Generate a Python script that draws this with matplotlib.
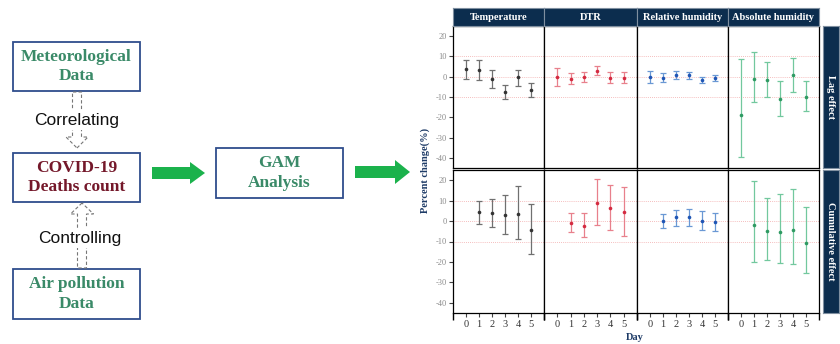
import numpy as np
import matplotlib
matplotlib.use('Agg')
import matplotlib.pyplot as plt
from matplotlib.patches import Rectangle, FancyArrow

# ---- data ----
days = [0, 1, 2, 3, 4, 5]
variables = ['Temperature', 'DTR', 'Relative humidity', 'Absolute humidity']
effects = ['Lag effect', 'Cumulative effect']

# lag effect (top row): estimate, lower, upper
lag_temp = [3.7, 3.2, -1.0, -7.4, -0.3, -6.5]
lag_temp_lo = [-1.1, -1.6, -5.5, -11.0, -4.4, -10.0]
lag_temp_hi = [8.4, 8.1, 3.5, -3.9, 3.5, -2.9]

lag_dtr = [0.0, -1.0, -0.3, 2.9, -0.6, -0.6]
lag_dtr_lo = [-4.4, -3.4, -2.7, 0.6, -3.2, -3.1]
lag_dtr_hi = [4.4, 1.9, 2.4, 5.2, 2.3, 2.3]

lag_rh = [-0.2, -0.5, 1.0, 0.6, -1.6, -0.6]
lag_rh_lo = [-2.9, -2.7, -1.1, -1.1, -3.2, -1.9]
lag_rh_hi = [2.6, 1.9, 2.9, 2.3, 0.0, 1.0]

lag_ah = [-19.0, -1.0, -1.5, -11.1, 0.6, -10.0]
lag_ah_lo = [-39.5, -12.3, -9.8, -19.4, -7.3, -17.1]
lag_ah_hi = [8.9, 12.1, 7.3, -2.1, 9.2, -2.1]

# cumulative effect (bottom row), no value on day 0
cum_temp = [np.nan, 4.4, 4.1, 2.9, 3.4, -4.4]
cum_temp_lo = [np.nan, -1.3, -2.8, -6.2, -8.8, -16.0]
cum_temp_hi = [np.nan, 9.8, 10.9, 12.9, 17.0, 8.5]

cum_dtr = [np.nan, -0.7, -2.3, 8.8, 6.4, 4.2]
cum_dtr_lo = [np.nan, -5.4, -8.0, -2.0, -4.2, -7.2]
cum_dtr_hi = [np.nan, 4.1, 3.8, 20.7, 17.9, 16.5]

cum_rh = [np.nan, 0.2, 1.8, 2.0, 0.2, -0.5]
cum_rh_lo = [np.nan, -3.6, -2.4, -2.4, -4.6, -5.0]
cum_rh_hi = [np.nan, 3.4, 5.4, 6.0, 4.7, 3.8]

cum_ah = [np.nan, -2.0, -4.9, -5.2, -4.2, -10.8]
cum_ah_lo = [np.nan, -19.9, -18.9, -20.7, -20.9, -25.6]
cum_ah_hi = [np.nan, 19.7, 11.4, 13.2, 15.7, 7.0]

yticks = [20, 10, 0, -10, -20, -30, -40]

rows = [
    [(lag_temp, lag_temp_lo, lag_temp_hi), (lag_dtr, lag_dtr_lo, lag_dtr_hi),
     (lag_rh, lag_rh_lo, lag_rh_hi), (lag_ah, lag_ah_lo, lag_ah_hi)],
    [(cum_temp, cum_temp_lo, cum_temp_hi), (cum_dtr, cum_dtr_lo, cum_dtr_hi),
     (cum_rh, cum_rh_lo, cum_rh_hi), (cum_ah, cum_ah_lo, cum_ah_hi)],
]

bar_colors = ['#707070', '#e8808c', '#6a98d4', '#72c89e']
pt_colors = ['#333333', '#d42a40', '#1f55b5', '#2e9a62']
navy = '#0c2d4e'
serif = 'Liberation Serif'

W, H = 840, 344
fig = plt.figure(figsize=(W / 100, H / 100), dpi=100)


def px_axes(x0, y0, x1, y1, **kw):
    return fig.add_axes([x0 / W, 1 - y1 / H, (x1 - x0) / W, (y1 - y0) / H], **kw)


# ---- flowchart on the left ----
fc = px_axes(0, 0, W, H)
fc.set_xlim(0, W)
fc.set_ylim(H, 0)
fc.axis('off')

box_edge = '#2f4d8c'
green_txt = '#3a8a68'
red_txt = '#74182a'


def box(x0, y0, x1, y1, lines, color):
    fc.add_patch(Rectangle((x0, y0), x1 - x0, y1 - y0, fill=False,
                           edgecolor=box_edge, lw=1.3))
    fc.text((x0 + x1) / 2, (y0 + y1) / 2, lines, ha='center', va='center',
            fontsize=12.5, fontweight='bold', family=serif, color=color,
            linespacing=1.3)


box(13, 42, 140, 91, 'Meteorological\nData', green_txt)
box(13, 153, 140, 202, 'COVID-19\nDeaths count', red_txt)
box(13, 269, 140, 319, 'Air pollution\nData', green_txt)
box(216, 148, 343, 198, 'GAM\nAnalysis', green_txt)

# dashed hollow arrows
fc.add_patch(FancyArrow(77, 92, 0, 56, width=9, head_width=22, head_length=11,
                        length_includes_head=True, fill=False, edgecolor='#777777',
                        lw=0.8, linestyle=(0, (3, 2))))
fc.add_patch(FancyArrow(82, 268, 0, -65, width=9, head_width=23, head_length=11,
                        length_includes_head=True, fill=False, edgecolor='#777777',
                        lw=0.8, linestyle=(0, (3, 2))))
fc.text(77, 120, 'Correlating', ha='center', va='center', fontsize=12.5,
        family='Liberation Sans', color='#111111',
        bbox=dict(facecolor='white', edgecolor='none', pad=2))
fc.text(80, 238, 'Controlling', ha='center', va='center', fontsize=12.5,
        family='Liberation Sans', color='#111111',
        bbox=dict(facecolor='white', edgecolor='none', pad=2))

# green arrows
arrow_green = '#1bb24c'
fc.add_patch(FancyArrow(152, 173, 53, 0, width=12, head_width=22, head_length=15,
                        length_includes_head=True, color=arrow_green, lw=0))
fc.add_patch(FancyArrow(355, 172, 55, 0, width=12, head_width=24, head_length=15,
                        length_includes_head=True, color=arrow_green, lw=0))

# ---- faceted error-bar chart ----
col_edges = [453, 544, 637, 728, 819]
row_edges = [(26, 168), (170, 313)]

for r, (y0, y1) in enumerate(row_edges):
    for c in range(4):
        ax = px_axes(col_edges[c], y0, col_edges[c + 1], y1)
        est, lo, hi = [np.array(a, dtype=float) for a in rows[r][c]]
        for yl in [10, 0, -10]:
            ax.axhline(yl, color='#f2a8a8', lw=0.6, ls=(0, (1, 1.5)), zorder=1)
        ax.errorbar(days, est, yerr=[est - lo, hi - est], fmt='none',
                    ecolor=bar_colors[c], elinewidth=0.9, capsize=2.2,
                    capthick=0.9, zorder=2)
        ax.plot(days, est, 'o', color=pt_colors[c], markersize=2.6,
                markeredgewidth=0, zorder=3)
        ax.set_xlim(-1, 6)
        ax.set_ylim(-45, 25)
        for s in ax.spines.values():
            s.set_color('black')
            s.set_linewidth(0.9)
        ax.set_yticks(yticks)
        if c == 0:
            ax.set_yticklabels([str(v) for v in yticks], family=serif,
                               fontsize=6, color='#8a8a8a')
            ax.tick_params(axis='y', length=3, width=0.8, color='#444444', pad=1.5)
        else:
            ax.tick_params(axis='y', length=0, labelleft=False)
        if r == 1:
            ax.set_xticks(days)
            ax.set_xticklabels([str(d) for d in days], family=serif,
                               fontsize=7.5, color='#333333')
            ax.set_xticks([-1, 6], minor=True)
            ax.tick_params(axis='x', which='major', length=3, width=0.8,
                           color='#444444', pad=2)
            ax.tick_params(axis='x', which='minor', length=5, width=1.0,
                           color='black')
        else:
            ax.set_xticks([])

        if r == 0:
            hx = px_axes(col_edges[c], 8, col_edges[c + 1], 26)
            hx.set_facecolor(navy)
            hx.set_xticks([])
            hx.set_yticks([])
            for s in hx.spines.values():
                s.set_color('#7f8fa0')
                s.set_linewidth(0.8)
            hx.text(0.5, 0.5, variables[c], ha='center', va='center',
                    transform=hx.transAxes, color='white', fontsize=7.5,
                    fontweight='bold', family=serif)

    sx = px_axes(823, y0, 839, y1)
    sx.set_facecolor(navy)
    sx.set_xticks([])
    sx.set_yticks([])
    for s in sx.spines.values():
        s.set_color('#7f8fa0')
        s.set_linewidth(0.8)
    sx.text(0.5, 0.5, effects[r], ha='center', va='center', rotation=-90,
            transform=sx.transAxes, color='white', fontsize=7.5,
            fontweight='bold', family=serif)

fig.text(425 / W, 1 - 170 / H, 'Percent change(%)', rotation=90, ha='center',
         va='center', fontsize=7.5, fontweight='bold', family=serif, color='#1d3a66')
fig.text(635 / W, 1 - 337 / H, 'Day', ha='center', va='center', fontsize=7.5,
         fontweight='bold', family=serif, color='#1d3a66')

fig.savefig('out.png', dpi=100, facecolor='white')
